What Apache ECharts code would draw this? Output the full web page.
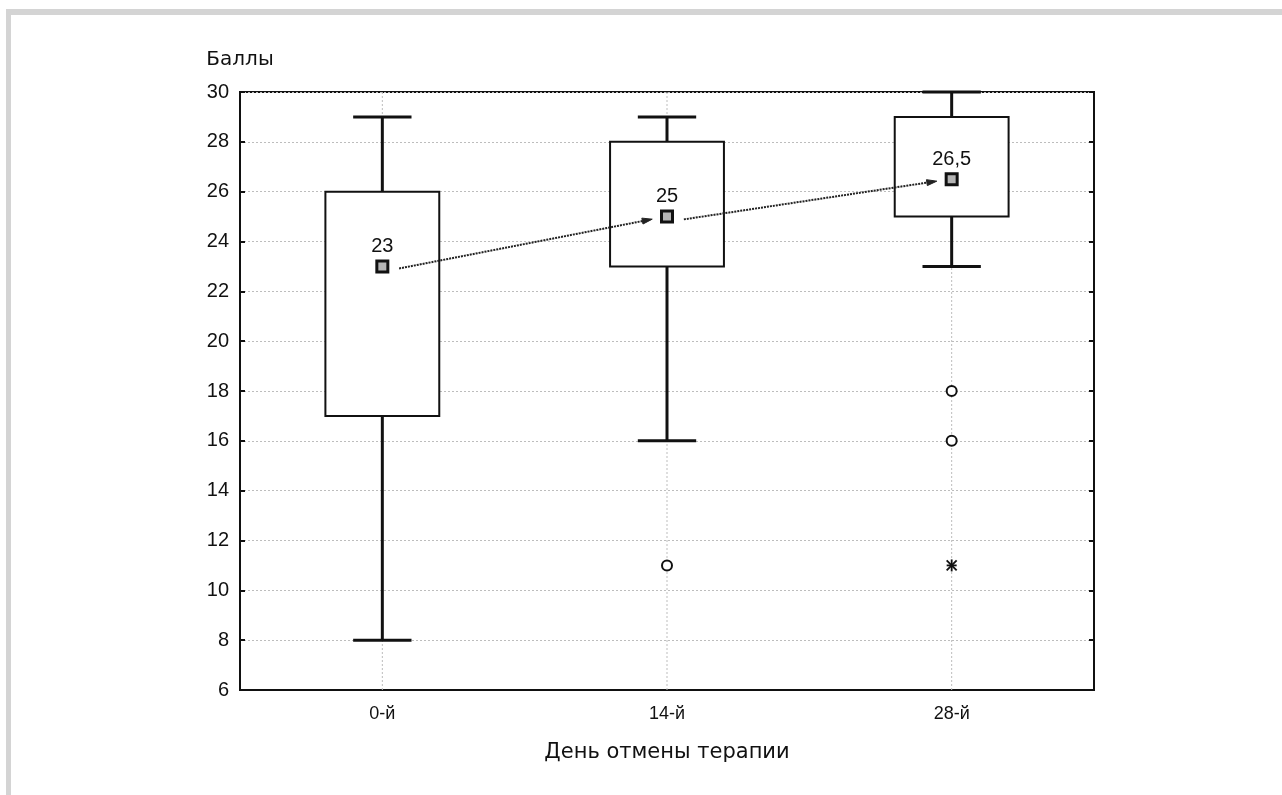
<!DOCTYPE html>
<html>
<head>
<meta charset="utf-8">
<script src="https://cdn.jsdelivr.net/npm/echarts@6/dist/echarts.min.js"></script>
<style>
  html, body { margin: 0; padding: 0; background: #fff; }
  #frame { position: absolute; left: 6px; top: 9px; right: 0; bottom: 0;
           border-top: 6px solid #d4d4d4; border-left: 5px solid #d4d4d4; }
  #chart { position: absolute; left: 0; top: 0; width: 1282px; height: 795px; }
</style>
</head>
<body>
<div id="frame"></div>
<div id="chart"></div>
<script>
// Score distribution by day of therapy withdrawal
const days        = ['0-й', '14-й', '28-й'];
const whiskerLow  = [8, 16, 23];
const q1          = [17, 23, 25];
const median      = [23, 25, 26.5];
const q3          = [26, 28, 29];
const whiskerHigh = [29, 29, 30];
// outliers (circles) and extremes (asterisks): [day index, score]
const outliers = [[1, 11], [2, 18], [2, 16]];
const extremes = [[2, 11]];
const yMin = 6, yMax = 30, yStep = 2;

const NUM_FONT = '"Liberation Sans", Arial, sans-serif';
const TXT_FONT = '"DejaVu Sans", "Liberation Sans", sans-serif';
const INK = '#111';

const boxData = days.map((d, i) => [i, whiskerLow[i], q1[i], median[i], q3[i], whiskerHigh[i]]);
const medianData = days.map((d, i) => [i, median[i]]);
const arrowData = [];
for (let i = 0; i < days.length - 1; i++) {
  arrowData.push([i, median[i], i + 1, median[i + 1]]);
}

function renderBox(params, api) {
  const i = api.value(0);
  const band = api.size([1, 0])[0];
  const boxW = band * 0.4;
  const capW = band * 0.205;
  const pLow = api.coord([i, api.value(1)]);
  const pQ1 = api.coord([i, api.value(2)]);
  const pQ3 = api.coord([i, api.value(4)]);
  const pHigh = api.coord([i, api.value(5)]);
  const x = pLow[0];
  const yTop = api.coord([i, yMax])[1];
  const yBot = api.coord([i, yMin])[1];
  return {
    type: 'group',
    children: [
      { type: 'line', shape: { x1: x, y1: yTop, x2: x, y2: yBot },
        style: { stroke: '#bdbdbd', lineWidth: 1, lineDash: [2, 2] } },
      { type: 'line', shape: { x1: x, y1: pHigh[1], x2: x, y2: pQ3[1] },
        style: { stroke: INK, lineWidth: 3 } },
      { type: 'line', shape: { x1: x, y1: pQ1[1], x2: x, y2: pLow[1] },
        style: { stroke: INK, lineWidth: 3 } },
      { type: 'line', shape: { x1: x - capW / 2, y1: pHigh[1], x2: x + capW / 2, y2: pHigh[1] },
        style: { stroke: INK, lineWidth: 3 } },
      { type: 'line', shape: { x1: x - capW / 2, y1: pLow[1], x2: x + capW / 2, y2: pLow[1] },
        style: { stroke: INK, lineWidth: 3 } },
      { type: 'rect', shape: { x: x - boxW / 2, y: pQ3[1], width: boxW, height: pQ1[1] - pQ3[1] },
        style: { fill: '#fff', stroke: INK, lineWidth: 2 } }
    ]
  };
}

function renderArrow(params, api) {
  const p0 = api.coord([api.value(0), api.value(1)]);
  const p1 = api.coord([api.value(2), api.value(3)]);
  const dx = p1[0] - p0[0], dy = p1[1] - p0[1];
  const len = Math.sqrt(dx * dx + dy * dy);
  const ux = dx / len, uy = dy / len;
  const s = [p0[0] + ux * 17, p0[1] + uy * 17 + 5];
  const e = [p1[0] - ux * 15, p1[1] - uy * 15];
  const ang = Math.atan2(e[1] - s[1], e[0] - s[0]);
  const hl = 10, hw = 3;
  const bx = e[0] - hl * Math.cos(ang), by = e[1] - hl * Math.sin(ang);
  const nx = -Math.sin(ang) * hw, ny = Math.cos(ang) * hw;
  return {
    type: 'group',
    children: [
      { type: 'line', shape: { x1: s[0], y1: s[1], x2: bx, y2: by },
        style: { stroke: '#222', lineWidth: 2, lineDash: [2, 1] } },
      { type: 'polygon', shape: { points: [e, [bx + nx, by + ny], [bx - nx, by - ny]] },
        style: { fill: '#222', stroke: '#222', lineWidth: 1 } }
    ]
  };
}

function renderStar(params, api) {
  const p = api.coord([api.value(0), api.value(1)]);
  const r = 6, d = 5;
  const st = { stroke: INK, lineWidth: 1.8 };
  return {
    type: 'group',
    children: [
      { type: 'line', shape: { x1: p[0], y1: p[1] - r, x2: p[0], y2: p[1] + r }, style: st },
      { type: 'line', shape: { x1: p[0] - d, y1: p[1] - d, x2: p[0] + d, y2: p[1] + d }, style: st },
      { type: 'line', shape: { x1: p[0] + d, y1: p[1] - d, x2: p[0] - d, y2: p[1] + d }, style: st },
      { type: 'line', shape: { x1: p[0] - 5, y1: p[1], x2: p[0] + 5, y2: p[1] }, style: st }
    ]
  };
}

const chart = echarts.init(document.getElementById('chart'), null, { renderer: 'canvas' });
chart.setOption({
  animation: false,
  backgroundColor: 'transparent',
  textStyle: { fontFamily: NUM_FONT, color: INK },
  grid: { left: 240, right: 188, top: 92, bottom: 105, show: true,
          borderColor: INK, borderWidth: 2, backgroundColor: 'transparent' },
  xAxis: {
    type: 'category',
    data: days,
    boundaryGap: true,
    axisLine: { lineStyle: { color: INK, width: 2 } },
    axisTick: { alignWithLabel: true, inside: true, length: 5, lineStyle: { color: INK, width: 2 } },
    axisLabel: { fontSize: 18, color: INK, margin: 15, fontFamily: NUM_FONT },
    splitLine: { show: false },
    name: 'День отмены терапии',
    nameLocation: 'middle',
    nameGap: 52,
    nameTextStyle: { fontSize: 21, color: INK, fontFamily: TXT_FONT }
  },
  yAxis: [{
    type: 'value',
    min: yMin, max: yMax, interval: yStep,
    axisLine: { show: true, lineStyle: { color: INK, width: 2 } },
    axisTick: { show: true, inside: true, length: 5, lineStyle: { color: INK, width: 2 } },
    axisLabel: { fontSize: 20, color: INK, margin: 11, fontFamily: NUM_FONT },
    splitLine: { show: true, lineStyle: { color: '#bdbdbd', type: [2, 2], width: 1 } },
    name: 'Баллы',
    nameLocation: 'end',
    nameGap: 22,
    nameTextStyle: { fontSize: 20, color: INK, fontFamily: TXT_FONT }
  }, {
    type: 'value',
    position: 'right',
    min: yMin, max: yMax, interval: yStep,
    axisLine: { show: true, lineStyle: { color: INK, width: 2 } },
    axisTick: { show: true, inside: true, length: 5, lineStyle: { color: INK, width: 2 } },
    axisLabel: { show: false },
    splitLine: { show: false }
  }],
  series: [
    {
      type: 'custom',
      name: 'box',
      renderItem: renderBox,
      data: boxData,
      encode: { x: 0, y: [1, 2, 3, 4, 5] },
      z: 2
    },
    {
      type: 'custom',
      name: 'trend',
      renderItem: renderArrow,
      data: arrowData,
      encode: { x: [0, 2], y: [1, 3] },
      z: 3
    },
    {
      type: 'scatter',
      name: 'median',
      data: medianData,
      symbol: 'rect',
      symbolSize: 11,
      itemStyle: { color: '#b4b4b4', borderColor: INK, borderWidth: 3, opacity: 1 },
      label: {
        show: true, position: 'top', distance: 3,
        fontSize: 20, color: INK, fontFamily: NUM_FONT,
        formatter: p => String(p.value[1]).replace('.', ',')
      },
      z: 4
    },
    {
      type: 'scatter',
      name: 'outlier',
      data: outliers,
      symbol: 'circle',
      symbolSize: 10,
      itemStyle: { color: '#fff', borderColor: INK, borderWidth: 2, opacity: 1 },
      z: 4
    },
    {
      type: 'custom',
      name: 'extreme',
      renderItem: renderStar,
      data: extremes,
      encode: { x: 0, y: 1 },
      z: 4
    }
  ]
});
</script>
</body>
</html>
